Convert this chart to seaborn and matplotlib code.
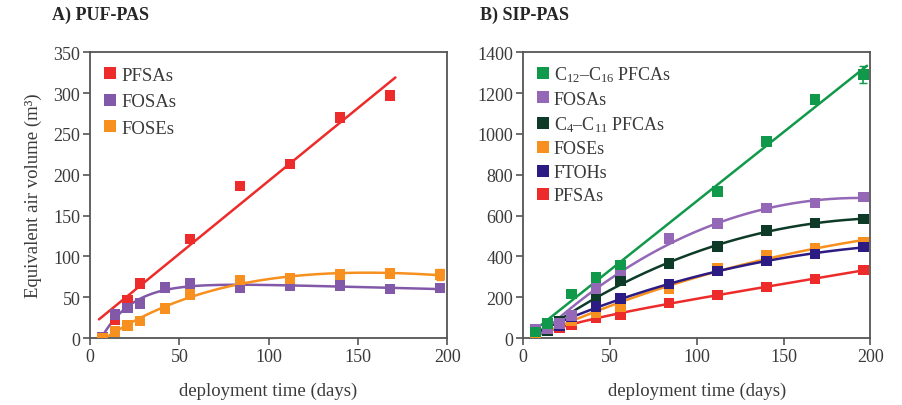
import numpy as np
import pandas as pd
import matplotlib
matplotlib.use("Agg")
import matplotlib.pyplot as plt
from matplotlib.lines import Line2D
import seaborn as sns

# Sampling days (1, 2, 3, 4, 6, 8, 12, 16, 20, 24, 28 weeks)
days = [7, 14, 21, 28, 42, 56, 84, 112, 140, 168, 196]
nan = np.nan

# A) PUF-PAS equivalent air volumes (m3)
puf_pfsas = [nan, 23, 46, 67, nan, 121, 186, 213, 270, 297, nan]
puf_fosas = [1, 29, 37, 42, 62, 67, 62, 64, 64, 60, 61]
puf_foses = [0, 8, 15, 21, 36, 53, 71, 73, 78, 79, 78]
puf_foses_err = [0, 0, 0, 0, 0, 0, 0, 0, 0, 0, 7]

# B) SIP-PAS equivalent air volumes (m3)
sip_c12_c16 = [30, 70, nan, 216, 297, 358, nan, 717, 962, 1168, 1290]
sip_c12_c16_err = [0, 0, 0, 0, 0, 0, 0, 0, 0, 0, 43]
sip_fosas = [44, 45, 70, 110, 243, 330, 486, 561, 636, 662, 690]
sip_c4_c11 = [30, 36, 80, 110, 205, 280, 364, 448, 526, 564, 582]
sip_foses = [15, 35, 60, 85, 126, 155, 243, 340, 407, 440, 468]
sip_ftohs = [44, 40, 62, 105, 155, 193, 265, 328, 377, 412, 446]
sip_pfsas = [11, 36, 52, 64, 101, 115, 172, 211, 250, 289, 333]

RED = "#ee2b2b"
PURPLE_A = "#8259a8"
PURPLE_B = "#9468b6"
ORANGE = "#f7901e"
GREEN = "#10994a"
DKGREEN = "#0d3b27"
INDIGO = "#2b1b82"


def linear_fit(t, y, t_eval):
    t = np.asarray(t, float)
    y = np.asarray(y, float)
    m = ~np.isnan(y)
    b, a = np.polyfit(t[m], y[m], 1)
    return a + b * t_eval


def uptake_fit(t, y, t_eval):
    """Least-squares fit of y = a + b*t + c*exp(-k*t), grid search on k."""
    t = np.asarray(t, float)
    y = np.asarray(y, float)
    m = ~np.isnan(y)
    tt, yy = t[m], y[m]
    best = None
    for k in np.linspace(0.002, 0.15, 600):
        X = np.column_stack([np.ones_like(tt), tt, np.exp(-k * tt)])
        coef = np.linalg.lstsq(X, yy, rcond=None)[0]
        sse = np.sum((X @ coef - yy) ** 2)
        if best is None or sse < best[0]:
            best = (sse, k, coef)
    _, k, (a, b, c) = best
    return a + b * t_eval + c * np.exp(-k * t_eval)


sns.set_theme(style="ticks")
plt.rcParams["font.family"] = ["Liberation Serif", "DejaVu Serif"]
plt.rcParams["mathtext.fontset"] = "custom"
plt.rcParams["mathtext.rm"] = "Liberation Serif"
plt.rcParams["mathtext.it"] = "Liberation Serif"

fig = plt.figure(figsize=(9.02, 4.06), dpi=100)
axA = fig.add_axes([0.0998, 0.165, 0.396, 0.704])
axB = fig.add_axes([0.580, 0.165, 0.385, 0.704])

t_days = np.asarray(days, float)


def draw_series(ax, y, color, kind, span, err=None):
    tt = np.linspace(span[0], span[1], 300)
    fit = linear_fit if kind == "lin" else uptake_fit
    curve = pd.DataFrame({"t": tt, "v": fit(t_days, y, tt)})
    sns.lineplot(data=curve, x="t", y="v", ax=ax, color=color, lw=1.8,
                 zorder=2, legend=False)
    pts = pd.DataFrame({"t": t_days, "v": np.asarray(y, float)}).dropna()
    sns.scatterplot(data=pts, x="t", y="v", ax=ax, color=color, marker="s",
                    s=58, edgecolor="none", linewidth=0, zorder=3, legend=False)
    if err is not None:
        e = np.asarray(err, float)
        yv = np.asarray(y, float)
        m = e > 0
        ax.errorbar(t_days[m], yv[m], yerr=e[m], fmt="none", ecolor=color,
                    elinewidth=1.2, capsize=3, zorder=3)


# Panel A
draw_series(axA, puf_pfsas, RED, "lin", (5, 171))
draw_series(axA, puf_fosas, PURPLE_A, "curve", (7, 198))
draw_series(axA, puf_foses, ORANGE, "curve", (7, 198), err=puf_foses_err)

# Panel B
draw_series(axB, sip_pfsas, RED, "curve", (6, 198))
draw_series(axB, sip_foses, ORANGE, "curve", (6, 198))
draw_series(axB, sip_ftohs, INDIGO, "curve", (6, 198))
draw_series(axB, sip_c4_c11, DKGREEN, "curve", (6, 198))
draw_series(axB, sip_fosas, PURPLE_B, "curve", (6, 198))
draw_series(axB, sip_c12_c16, GREEN, "lin", (5, 198), err=sip_c12_c16_err)

tick_color = "#3a3a3a"
for ax, ymax, ystep in ((axA, 350, 50), (axB, 1400, 200)):
    ax.set_xlim(0, 200)
    ax.set_ylim(0, ymax)
    ax.set_xticks(np.arange(0, 201, 50))
    ax.set_yticks(np.arange(0, ymax + 1, ystep))
    ax.tick_params(axis="both", direction="out", length=5, width=1.2,
                   colors="#555555", labelcolor=tick_color, labelsize=13,
                   pad=2)
    for sp in ax.spines.values():
        sp.set_visible(True)
        sp.set_color("#555555")
        sp.set_linewidth(1.3)
    ax.set_xlabel("deployment time (days)", fontsize=13.5, color=tick_color,
                  labelpad=12)
    ax.set_ylabel("")

axA.set_ylabel("Equivalent air volume (m³)", fontsize=13.5, color=tick_color,
               labelpad=8)

fig.text(0.058, 0.962, "A) PUF-PAS", fontsize=13, fontweight="bold",
         va="center", ha="left")
fig.text(0.532, 0.962, "B) SIP-PAS", fontsize=13, fontweight="bold",
         va="center", ha="left")


def square(color):
    return Line2D([], [], ls="none", marker="s", ms=8, color=color, mew=0)


legA = axA.legend([square(RED), square(PURPLE_A), square(ORANGE)],
                  ["PFSAs", "FOSAs", "FOSEs"], loc="upper left",
                  frameon=False, fontsize=13.5, handlelength=0.6,
                  handletextpad=0.3, labelspacing=0.5,
                  bbox_to_anchor=(0.01, 0.988), borderaxespad=0.2)
for txt in legA.get_texts():
    txt.set_color(tick_color)

legB = axB.legend([square(GREEN), square(PURPLE_B), square(DKGREEN),
                   square(ORANGE), square(INDIGO), square(RED)],
                  ["C$_{12}$–C$_{16}$ PFCAs", "FOSAs", "C$_{4}$–C$_{11}$ PFCAs",
                   "FOSEs", "FTOHs", "PFSAs"], loc="upper left",
                  frameon=False, fontsize=13, handlelength=0.6,
                  handletextpad=0.3, labelspacing=0.36,
                  bbox_to_anchor=(0.01, 0.995), borderaxespad=0.2)
for txt in legB.get_texts():
    txt.set_color(tick_color)

fig.savefig("out.png", dpi=100)
